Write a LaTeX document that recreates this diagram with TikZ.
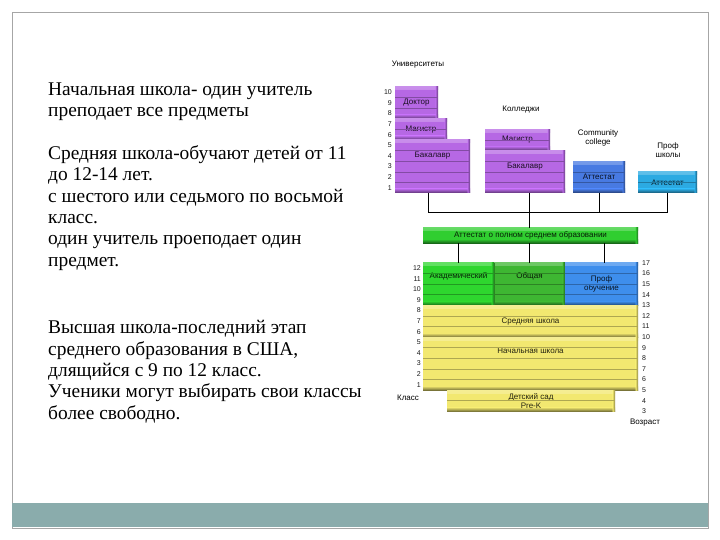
\documentclass[tikz,border=0pt]{standalone}
\usepackage{fontspec}
\setmainfont{Liberation Serif}
\newfontfamily\diagfont{Liberation Sans}
\definecolor{uniPurple}{RGB}{182,104,228}
\definecolor{commBlue}{RGB}{72,122,226}
\definecolor{profCyan}{RGB}{44,170,226}
\definecolor{certGreen}{RGB}{48,206,48}
\definecolor{acadGreen}{RGB}{46,214,46}
\definecolor{genGreen}{RGB}{62,182,50}
\definecolor{vocBlue}{RGB}{62,142,236}
\definecolor{schoolYellow}{RGB}{242,232,112}
\definecolor{slideTeal}{RGB}{138,172,172}
\tikzset{
  tier/.style={rectangle, anchor=north west, inner sep=0pt, outer sep=0pt,
    fill=#1, text=#1!15!black, font=\diagfont\fontsize{8}{9}\selectfont, align=center,
    path picture={
      \shade[top color=#1!75!white, bottom color=#1]
        (path picture bounding box.north west) rectangle ([yshift=-3pt]path picture bounding box.north east);
      \shade[top color=#1, bottom color=#1!50!black]
        ([yshift=4pt]path picture bounding box.south west) rectangle (path picture bounding box.south east);
      \shade[left color=#1, right color=#1!55!black]
        ([xshift=-2.5pt]path picture bounding box.north east) rectangle (path picture bounding box.south east);
    }},
  stripe/.style={draw=#1!72!black, line width=0.4pt},
  stem/.style={draw=black, line width=0.9pt},
  grade/.style={font=\diagfont\fontsize{7}{8}\selectfont, text=black!90, inner sep=0pt},
  caption/.style={font=\diagfont\fontsize{8}{9}\selectfont, text=black, inner sep=0pt, align=center},
  bodytext/.style={font=\fontsize{19.4}{21.3}\selectfont, align=left, inner sep=0pt, anchor=base west},
}
\begin{document}
\begin{tikzpicture}[x=1pt,y=-1pt]
\useasboundingbox (0,0) rectangle (720,540);
% slide frame
\draw[gray!70, line width=0.8pt] (12,12) rectangle (708,528);
\fill[slideTeal] (12,503) rectangle (708,527);

% left text (placed at the baseline of the last line)
\node[bodytext] (primaryTxt) at (48,116.8) {Начальная школа- один учитель\\преподает все предметы};
\node[bodytext] (middleTxt) at (48,266) {Средняя школа-обучают детей от 11\\до 12-14 лет.\\с шестого или седьмого по восьмой\\класс.\\один учитель проеподает один\\предмет.};
\node[bodytext] (highTxt) at (48,419) {Высшая школа-последний этап\\среднего образования в США,\\длящийся с 9 по 12 класс.\\Ученики могут выбирать свои классы\\более свободно.};

% higher education
\node[caption] (uniCap) at (418,65) {Университеты};
\node[caption] (colCap) at (521,110) {Колледжи};
\node[caption] (commCap) at (598,138) {Community\\college};
\node[caption] (profCap) at (668,150) {Проф\\школы};
\node[tier=uniPurple, minimum width=43, minimum height=31.8] (uniDoc) at (395,87) {Доктор};
\node[tier=uniPurple, minimum width=52, minimum height=21.2] (uniMag) at (395,118.8) {Магистр};
\node[tier=uniPurple, minimum width=75, minimum height=53] (uniBach) at (395,140) {\raisebox{11pt}[0.6em][0.2em]{Бакалавр}};
\node[tier=uniPurple, minimum width=65, minimum height=21.2] (colMag) at (485,129.4) {Магистр};
\node[tier=uniPurple, minimum width=80, minimum height=42.4] (colBach) at (485,150.6) {\raisebox{4.5pt}[0.6em][0.2em]{Бакалавр}};
\node[tier=commBlue, minimum width=52, minimum height=31.8] (commAtt) at (573,161.2) {Аттестат};
\node[tier=profCyan, minimum width=59, minimum height=21.2] (profAtt) at (638,171.8) {Аттестат};

% school
\node[tier=certGreen, minimum width=215, minimum height=15] (cert) at (423,228) {Аттестат о полном среднем образовании};
\node[tier=acadGreen, minimum width=71, minimum height=42.4] (acad) at (423,262.8) {\raisebox{7pt}[0.6em][0.2em]{Академический}};
\node[tier=genGreen, minimum width=71, minimum height=42.4] (general) at (494,262.8) {\raisebox{7pt}[0.6em][0.2em]{Общая}};
\node[tier=vocBlue, minimum width=73, minimum height=42.4] (vocEd) at (565,262.8) {Проф\\обучение};
\node[tier=schoolYellow, minimum width=215, minimum height=31.8] (middle) at (423,305.2) {Средняя школа};
\node[tier=schoolYellow, minimum width=215, minimum height=53] (elem) at (423,337) {\raisebox{11.5pt}[0.6em][0.2em]{Начальная школа}};
\node[tier=schoolYellow, minimum width=168, minimum height=21.2] (preK) at (447,390) {Детский сад\\Pre-K};

% row lines
\draw[stripe=uniPurple] (395,97.6) -- (438,97.6);
\draw[stripe=uniPurple] (395,108.2) -- (438,108.2);
\draw[stripe=uniPurple] (395,129.4) -- (447,129.4);
\draw[stripe=uniPurple] (395,150.6) -- (470,150.6);
\draw[stripe=uniPurple] (395,161.2) -- (470,161.2);
\draw[stripe=uniPurple] (395,171.8) -- (470,171.8);
\draw[stripe=uniPurple] (395,182.4) -- (470,182.4);
\draw[stripe=uniPurple] (485,140) -- (550,140);
\draw[stripe=uniPurple] (485,161.2) -- (565,161.2);
\draw[stripe=uniPurple] (485,171.8) -- (565,171.8);
\draw[stripe=uniPurple] (485,182.4) -- (565,182.4);
\draw[stripe=commBlue] (573,171.8) -- (625,171.8);
\draw[stripe=commBlue] (573,182.4) -- (625,182.4);
\draw[stripe=profCyan] (638,182.4) -- (697,182.4);
\draw[stripe=acadGreen] (423,273.4) -- (494,273.4);
\draw[stripe=acadGreen] (423,284) -- (494,284);
\draw[stripe=acadGreen] (423,294.6) -- (494,294.6);
\draw[stripe=genGreen] (494,273.4) -- (565,273.4);
\draw[stripe=genGreen] (494,284) -- (565,284);
\draw[stripe=genGreen] (494,294.6) -- (565,294.6);
\draw[stripe=vocBlue] (565,273.4) -- (638,273.4);
\draw[stripe=vocBlue] (565,284) -- (638,284);
\draw[stripe=vocBlue] (565,294.6) -- (638,294.6);
\draw[stripe=genGreen, line width=1pt] (general.north west) -- (general.south west);
\draw[stripe=schoolYellow] (423,315.8) -- (638,315.8);
\draw[stripe=schoolYellow] (423,326.4) -- (638,326.4);
\draw[stripe=schoolYellow] (423,347.6) -- (638,347.6);
\draw[stripe=schoolYellow] (423,358.2) -- (638,358.2);
\draw[stripe=schoolYellow] (423,368.8) -- (638,368.8);
\draw[stripe=schoolYellow] (423,379.4) -- (638,379.4);
\draw[stripe=schoolYellow] (447,400.6) -- (615,400.6);

% connectors
\coordinate (bus) at (0,212);
\draw[stem] ([xshift=-4pt]uniBach.south) |- (profAtt.south |- bus) -- (profAtt.south);
\draw[stem] ([xshift=4pt]colBach.south) -- ([xshift=4pt]colBach.south |- cert.north);
\draw[stem] (commAtt.south) -- (commAtt.south |- bus);
\draw[stem] (cert.south -| acad.north) -- (acad.north);
\draw[stem] (cert.south -| general.north) -- (general.north);
\draw[stem] ([xshift=3pt]cert.south -| vocEd.north) -- ([xshift=3pt]vocEd.north);

% grades, university
\node[grade, anchor=east] (uniG1) at (392,187.7) {1};
\node[grade, anchor=east] (uniG2) at (392,177.1) {2};
\node[grade, anchor=east] (uniG3) at (392,166.5) {3};
\node[grade, anchor=east] (uniG4) at (392,155.9) {4};
\node[grade, anchor=east] (uniG5) at (392,145.3) {5};
\node[grade, anchor=east] (uniG6) at (392,134.7) {6};
\node[grade, anchor=east] (uniG7) at (392,124.1) {7};
\node[grade, anchor=east] (uniG8) at (392,113.5) {8};
\node[grade, anchor=east] (uniG9) at (392,102.9) {9};
\node[grade, anchor=east] (uniG10) at (392,92.3) {10};

% grades, school
\node[grade, anchor=east] (g1) at (421,384.7) {1};
\node[grade, anchor=east] (g2) at (421,374.1) {2};
\node[grade, anchor=east] (g3) at (421,363.5) {3};
\node[grade, anchor=east] (g4) at (421,352.9) {4};
\node[grade, anchor=east] (g5) at (421,342.3) {5};
\node[grade, anchor=east] (g6) at (421,331.7) {6};
\node[grade, anchor=east] (g7) at (421,321.1) {7};
\node[grade, anchor=east] (g8) at (421,310.5) {8};
\node[grade, anchor=east] (g9) at (421,299.9) {9};
\node[grade, anchor=east] (g10) at (421,289.3) {10};
\node[grade, anchor=east] (g11) at (421,278.7) {11};
\node[grade, anchor=east] (g12) at (421,268.1) {12};
\node[caption] (gradeCap) at (408,398) {Класс};

% ages
\node[grade, anchor=west] (a3) at (642,411.2) {3};
\node[grade, anchor=west] (a4) at (642,400.6) {4};
\node[grade, anchor=west] (a5) at (642,390) {5};
\node[grade, anchor=west] (a6) at (642,379.4) {6};
\node[grade, anchor=west] (a7) at (642,368.8) {7};
\node[grade, anchor=west] (a8) at (642,358.2) {8};
\node[grade, anchor=west] (a9) at (642,347.6) {9};
\node[grade, anchor=west] (a10) at (642,337) {10};
\node[grade, anchor=west] (a11) at (642,326.4) {11};
\node[grade, anchor=west] (a12) at (642,315.8) {12};
\node[grade, anchor=west] (a13) at (642,305.2) {13};
\node[grade, anchor=west] (a14) at (642,294.6) {14};
\node[grade, anchor=west] (a15) at (642,284) {15};
\node[grade, anchor=west] (a16) at (642,273.4) {16};
\node[grade, anchor=west] (a17) at (642,262.8) {17};
\node[caption] (ageCap) at (645,423) {Возраст};
\end{tikzpicture}
\end{document}
